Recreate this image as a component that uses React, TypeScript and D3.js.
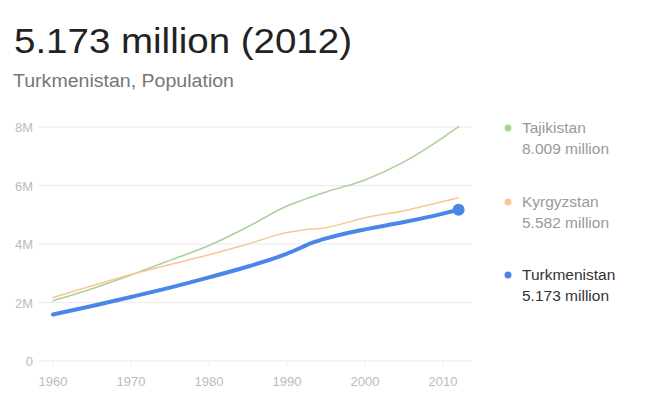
import React from "react";
import * as d3 from "d3";

const years = [1960, 1965, 1970, 1975, 1980, 1985, 1990, 1992, 1993, 1994, 1995, 2000, 2005, 2010, 2012];
const tajikistan = [2.06, 2.47, 2.94, 3.44, 3.95, 4.59, 5.30, 5.50, 5.60, 5.69, 5.78, 6.19, 6.81, 7.64, 8.009];
const kyrgyzstan = [2.17, 2.57, 2.96, 3.30, 3.63, 4.00, 4.39, 4.48, 4.51, 4.52, 4.56, 4.90, 5.14, 5.45, 5.582];
const turkmenistan = [1.59, 1.88, 2.19, 2.51, 2.86, 3.23, 3.67, 3.90, 4.02, 4.11, 4.19, 4.50, 4.75, 5.04, 5.173];

const yTicks = [0, 2, 4, 6, 8];
const yTickLabels = ["0", "2M", "4M", "6M", "8M"];
const xTicks = [1960, 1970, 1980, 1990, 2000, 2010];

const seriesNames = ["Tajikistan", "Kyrgyzstan", "Turkmenistan"];
const seriesLatest = ["8.009 million", "5.582 million", "5.173 million"];
const seriesColors = ["#a9d19a", "#f7c894", "#4a86e8"];
const seriesWidths = [1.5, 1.5, 4];

const title = "5.173 million (2012)";
const subtitle = "Turkmenistan, Population";

export default function App() {
  const W = 650, H = 396;
  const x = d3.scaleLinear().domain([1960, 2010]).range([53, 443]);
  const y = d3.scaleLinear().domain([0, 8]).range([361, 127]);
  const line = d3
    .line<number>()
    .x((_, i) => x(years[i]))
    .y((d) => y(d))
    .curve(d3.curveMonotoneX);
  const data = [tajikistan, kyrgyzstan, turkmenistan];
  const legendY = [128, 202, 275];
  const font = "'Liberation Sans', Arial, sans-serif";
  const last = years[years.length - 1];

  return (
    <svg width={W} height={H} style={{ position: "absolute", left: 0, top: 0, background: "#fff" }} fontFamily={font}>
      <rect x={0} y={0} width={W} height={H} fill="#fff" />
      <text x={14} y={53} fontSize={35} fill="#222" textLength={338} lengthAdjust="spacingAndGlyphs">{title}</text>
      <text x={13} y={87} fontSize={18} fill="#777" textLength={221} lengthAdjust="spacingAndGlyphs">{subtitle}</text>

      {yTicks.map((t, i) => (
        <g key={t}>
          <line x1={38} x2={472} y1={y(t)} y2={y(t)} stroke="#ebebeb" strokeWidth={1} />
          <text x={33} y={y(t) + 5} textAnchor="end" fontSize={13} fill="#bbb">
            {yTickLabels[i]}
          </text>
        </g>
      ))}
      {xTicks.map((t) => (
        <g key={t}>
          <line x1={x(t)} x2={x(t)} y1={y(0)} y2={y(0) + 5} stroke="#ebebeb" />
          <text x={x(t)} y={386} textAnchor="middle" fontSize={13} fill="#bbb">
            {t}
          </text>
        </g>
      ))}

      {data.map((d, i) => (
        <path
          key={seriesNames[i]}
          d={line(d) || ""}
          fill="none"
          stroke={seriesColors[i]}
          strokeWidth={seriesWidths[i]}
          strokeLinecap="round"
        />
      ))}
      <circle cx={x(last)} cy={y(turkmenistan[turkmenistan.length - 1])} r={6} fill={seriesColors[2]} />

      {seriesNames.map((n, i) => (
        <g key={n}>
          <circle cx={508} cy={legendY[i]} r={3.5} fill={seriesColors[i]} />
          <text x={522} y={legendY[i] + 5} fontSize={15.5} fill={i === 2 ? "#333" : "#999"}>
            {n}
          </text>
          <text x={522} y={legendY[i] + 26} fontSize={15.5} fill={i === 2 ? "#333" : "#999"}>
            {seriesLatest[i]}
          </text>
        </g>
      ))}
    </svg>
  );
}
